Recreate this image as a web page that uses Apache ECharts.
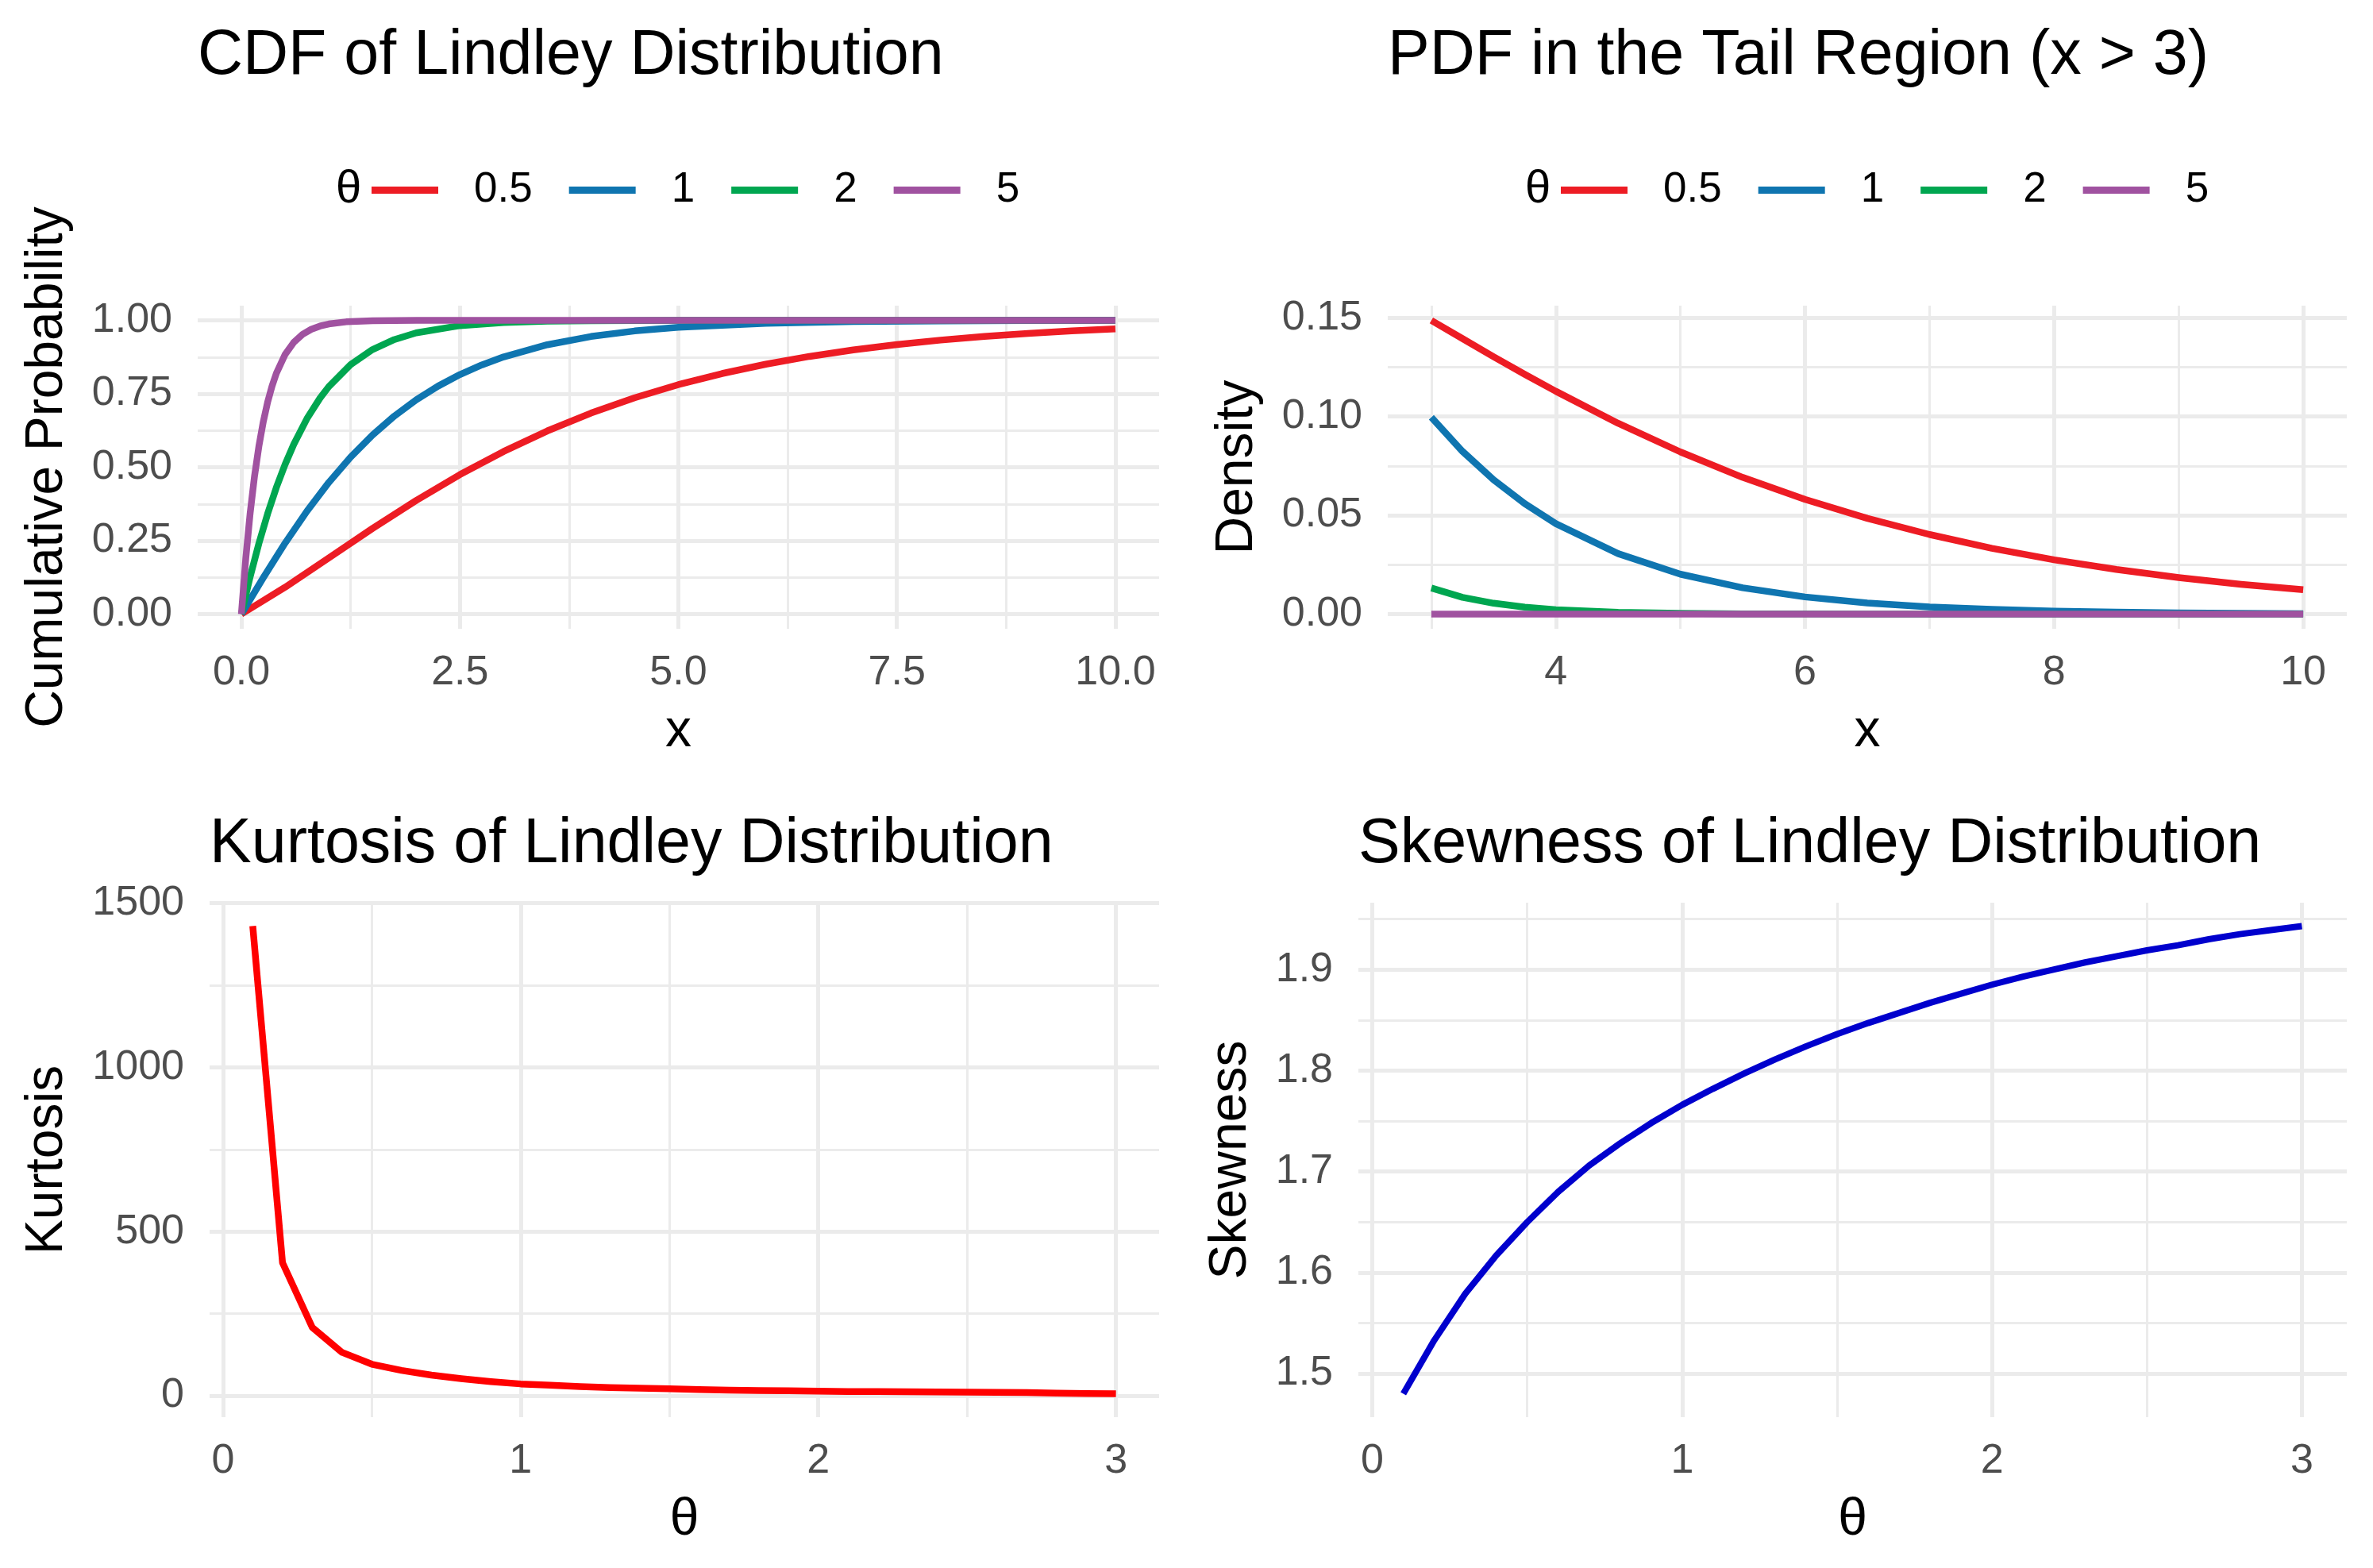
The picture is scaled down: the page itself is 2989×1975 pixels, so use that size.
<!DOCTYPE html>
<html><head><meta charset="utf-8">
<script src="https://cdn.jsdelivr.net/npm/echarts@6/dist/echarts.min.js"></script>
<style>html,body{margin:0;padding:0;background:#fff}#c{width:2989px;height:1975px}</style>
</head><body><div id="c"></div>
<script>
// ---------- data ----------
const thetaLevels = ['0.5', '1', '2', '5'];
const lineColors = ['#ED1C24', '#0F75B0', '#00A650', '#A052A0'];

// CDF of Lindley
const cdfX_05 = [0,0.5,1,1.5,2,2.5,3,3.5,4,4.5,5,5.5,6,6.5,7,7.5,8,8.5,9,9.5,10];
const cdfY_05 = [0,0.0914,0.1913,0.2915,0.3869,0.4747,0.5537,0.6235,0.6842,0.7365,0.7811,0.8189,0.8506,0.8772,0.8994,0.9177,0.9328,0.9453,0.9556,0.9640,0.9708];
const cdfX_1 = [0,0.25,0.5,0.75,1,1.25,1.5,1.75,2,2.25,2.5,2.75,3,3.5,4,4.5,5,6,7,8,9,10];
const cdfY_1 = [0,0.1238,0.2418,0.3505,0.4482,0.5344,0.6095,0.6742,0.7293,0.7760,0.8153,0.8482,0.8755,0.9170,0.9451,0.9639,0.9764,0.9901,0.9959,0.9983,0.9993,0.9997];
const cdfX_2 = [0,0.1,0.2,0.3,0.4,0.5,0.6,0.75,0.9,1,1.25,1.5,1.75,2,2.5,3,3.5,4,5,6,8,10];
const cdfY_2 = [0,0.1267,0.2403,0.3414,0.4309,0.5095,0.5783,0.6653,0.7355,0.7744,0.8495,0.9004,0.9346,0.9573,0.9820,0.9926,0.9970,0.9988,0.9998,1,1,1];
const cdfX_5 = [0,0.05,0.1,0.15,0.2,0.25,0.3,0.35,0.4,0.5,0.6,0.7,0.8,0.9,1,1.2,1.5,2,3,5,10];
const cdfY_5 = [0,0.1887,0.3429,0.4686,0.5708,0.6538,0.7211,0.7755,0.8196,0.8837,0.9253,0.9522,0.9695,0.9806,0.9876,0.9950,0.9988,0.9999,1,1,1];

// PDF in the tail region (x > 3)
const pdfX = [3,3.25,3.5,3.75,4,4.5,5,5.5,6,6.5,7,7.5,8,8.5,9,9.5,10];
const pdfY_05 = [0.1487,0.1395,0.1303,0.1214,0.1128,0.0966,0.0821,0.0692,0.0581,0.0485,0.0403,0.0333,0.0275,0.0226,0.0185,0.0151,0.0124];
const pdfY_1 = [0.0996,0.0824,0.0680,0.0559,0.0458,0.0306,0.0202,0.0133,0.0087,0.0056,0.0036,0.0024,0.0015,0.0010,0.0006,0.0004,0.0002];
const pdfY_2 = [0.0132,0.0085,0.0055,0.0035,0.0022,0.0009,0.0004,0.0001,0.0001,0,0,0,0,0,0,0,0];
const pdfY_5 = [0,0,0,0,0,0,0,0,0,0,0,0,0,0,0,0,0];

// Kurtosis and skewness vs theta
const thetaGrid = [0.1,0.2,0.3,0.4,0.5,0.6,0.7,0.8,0.9,1.0,1.1,1.2,1.3,1.4,1.5,1.6,1.7,1.8,1.9,2.0,2.1,2.2,2.3,2.4,2.5,2.6,2.7,2.8,2.9,3.0];
const kurtosis = [1430,405,208,132,96,77,63,52,43,36,32,28,25,23,21,19,17,16,15,14,13,12.5,12,11.5,11,10.5,10,8,7,6];
const skewness = [1.480,1.533,1.579,1.617,1.650,1.680,1.706,1.728,1.748,1.766,1.782,1.797,1.811,1.824,1.836,1.847,1.857,1.867,1.876,1.885,1.893,1.900,1.907,1.913,1.919,1.924,1.930,1.935,1.939,1.943];

// ---------- helpers ----------
const FONT = "'Liberation Sans', Arial, sans-serif";
const GRID_COL = '#EBEBEB';
const zip = (xs, ys) => xs.map((x, i) => [x, ys[i]]);
const fmt = (step, dec) => v => {
  const r = Math.round(v / step);
  return Math.abs(v - r * step) < step * 1e-6 ? (r * step).toFixed(dec) : '';
};
function valAxis(gi, min, max, step, dec, name, nameGap, isY) {
  return {
    type: 'value', gridIndex: gi, min, max, minInterval: step, maxInterval: step,
    name, nameLocation: 'middle', nameGap,
    nameTextStyle: { fontSize: 66, color: '#000', fontFamily: FONT },
    axisLine: { show: false }, axisTick: { show: false },
    axisLabel: { fontSize: 52, color: '#4D4D4D', fontFamily: FONT, margin: isY ? 32 : 30, formatter: fmt(step, dec) },
    splitLine: { show: true, showMinLine: false, showMaxLine: false, lineStyle: { color: GRID_COL, width: 5 } },
    minorTick: { show: false, splitNumber: 2 },
    minorSplitLine: { show: true, lineStyle: { color: GRID_COL, width: 3 } }
  };
}
function lineSeries(name, color, data, xi, lw) {
  return {
    type: 'line', name, data, xAxisIndex: xi, yAxisIndex: xi, showSymbol: false, symbol: 'none',
    color, itemStyle: { color }, lineStyle: { color, width: lw || 8.5, cap: 'butt', join: 'round' },
    silent: true, z: 3
  };
}
function legendAt(left) {
  return {
    left, top: 213, padding: 0, orient: 'horizontal', icon: 'rect', itemWidth: 84, itemHeight: 9,
    itemGap: 46, selectedMode: false, data: thetaLevels,
    textStyle: { fontSize: 53, color: '#000', fontFamily: FONT, padding: [0, 0, 0, 40] }
  };
}
const titleStyle = { fontSize: 79, fontWeight: 'normal', color: '#000', fontFamily: FONT };

const cdfSets = [zip(cdfX_05, cdfY_05), zip(cdfX_1, cdfY_1), zip(cdfX_2, cdfY_2), zip(cdfX_5, cdfY_5)];
const pdfSets = [zip(pdfX, pdfY_05), zip(pdfX, pdfY_1), zip(pdfX, pdfY_2), zip(pdfX, pdfY_5)];

const option = {
  animation: false,
  backgroundColor: '#fff',
  textStyle: { fontFamily: FONT },
  title: [
    { text: 'CDF of Lindley Distribution', left: 249, top: 32, padding: 0, textStyle: titleStyle },
    { text: 'PDF in the Tail Region (x > 3)', left: 1748, top: 32, padding: 0, textStyle: titleStyle },
    { text: 'Kurtosis of Lindley Distribution', left: 264, top: 1025, padding: 0, textStyle: titleStyle },
    { text: 'Skewness of Lindley Distribution', left: 1711, top: 1025, padding: 0, textStyle: titleStyle },
    { text: 'θ', left: 423, top: 210, padding: 0, textStyle: { fontSize: 58, fontWeight: 'normal', color: '#000', fontFamily: FONT } },
    { text: 'θ', left: 1921, top: 210, padding: 0, textStyle: { fontSize: 58, fontWeight: 'normal', color: '#000', fontFamily: FONT } }
  ],
  legend: [legendAt(468), legendAt(1966)],
  grid: [
    { left: 249, top: 385, width: 1211, height: 407 },
    { left: 1748, top: 385, width: 1208, height: 407 },
    { left: 264, top: 1137, width: 1196, height: 648 },
    { left: 1711, top: 1137, width: 1245, height: 648 }
  ],
  xAxis: [
    valAxis(0, -0.5, 10.5, 2.5, 1, 'x', 97, false),
    valAxis(1, 2.65, 10.35, 2, 0, 'x', 97, false),
    valAxis(2, -0.045, 3.145, 1, 0, 'θ', 97, false),
    valAxis(3, -0.045, 3.145, 1, 0, 'θ', 97, false)
  ],
  yAxis: [
    valAxis(0, -0.05, 1.05, 0.25, 2, 'Cumulative Probability', 156, true),
    valAxis(1, -0.0074365, 0.1561665, 0.05, 2, 'Density', 156, true),
    valAxis(2, -65.2, 1501.2, 500, 0, 'Kurtosis', 171, true),
    valAxis(3, 1.45685, 1.96615, 0.1, 1, 'Skewness', 127, true)
  ],
  series: [
    ...thetaLevels.map((n, i) => lineSeries(n, lineColors[i], cdfSets[i], 0)),
    ...thetaLevels.map((n, i) => lineSeries(n, lineColors[i], pdfSets[i], 1)),
    lineSeries('Kurtosis', '#FF0000', zip(thetaGrid, kurtosis), 2, 8.5),
    lineSeries('Skewness', '#0000CD', zip(thetaGrid, skewness), 3, 8)
  ]
};
const chart = echarts.init(document.getElementById('c'), null, { renderer: 'canvas' });
chart.setOption(option);
</script>
</body></html>
